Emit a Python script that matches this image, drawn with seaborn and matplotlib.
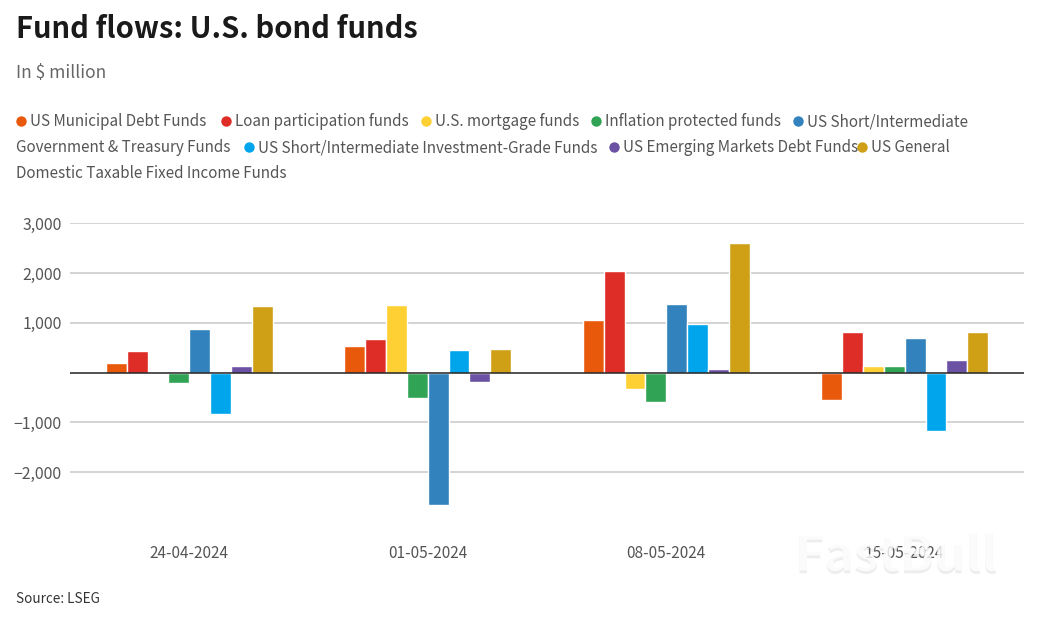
import pandas as pd
import seaborn as sns
import matplotlib.pyplot as plt
import matplotlib.patheffects as pe
from matplotlib.lines import Line2D

dates = ["24-04-2024", "01-05-2024", "08-05-2024", "15-05-2024"]
funds = ["US Municipal Debt Funds", "Loan participation funds", "U.S. mortgage funds",
         "Inflation protected funds", "US Short/Intermediate Government & Treasury Funds",
         "US Short/Intermediate Investment-Grade Funds", "US Emerging Markets Debt Funds",
         "US General Domestic Taxable Fixed Income Funds"]
colors = ["#e8590c", "#de2d26", "#ffd034", "#31a354", "#3182bd", "#00a5ec", "#6a51a3", "#cfa015"]

muni = [200, 537, 1060, -544]
loan = [436, 671, 2047, 819]
mortgage = [0, 1356, -322, 128]
inflation = [-215, -503, -584, 128]
short_gov = [880, -2658, 1389, 698]
short_ig = [-832, 456, 973, -1174]
emerging = [128, -181, 74, 255]
general = [1342, 476, 2611, 812]
series = [muni, loan, mortgage, inflation, short_gov, short_ig, emerging, general]

W, H = 1057, 624
TXT = "#555555"

rows = []
for name, vals in zip(funds, series):
    for d, v in zip(dates, vals):
        rows.append({"date": d, "fund": name, "value": v})
df = pd.DataFrame(rows)

sns.set_style("white")
# latin glyphs of this family are the closest to the original typeface
plt.rcParams["font.family"] = ["Noto Sans CJK SC", "DejaVu Sans"]

fig = plt.figure(figsize=(W / 100, H / 100), dpi=100)
ax = fig.add_axes([70 / W, 1 - 530 / H, (1024 - 70) / W, (530 - 223.3) / H])

sns.barplot(data=df, x="date", y="value", hue="fund", hue_order=funds, palette=colors,
            width=0.70, gap=0, saturation=1, legend=False, ax=ax, zorder=3)

ax.set_yticks([-2000, -1000, 1000, 2000, 3000])
ax.set_yticklabels(["\u22122,000", "\u22121,000", "1,000", "2,000", "3,000"])
ax.set_xlim(-0.5, 3.5)
ax.set_ylim(-3159, 3000)
ax.set_xlabel("")
ax.set_ylabel("")
ax.grid(axis="y", color="#c8c8c8", lw=1.1)
ax.set_axisbelow(True)
ax.axhline(0, color="#222222", lw=1.1, zorder=5)
sns.despine(ax=ax, left=True, bottom=True)
ax.tick_params(axis="y", length=0, pad=6, labelsize=11.4, labelcolor=TXT)
ax.tick_params(axis="x", length=0, pad=11, labelsize=11.1, labelcolor=TXT)

def put(x, y, s, **kw):
    return fig.text(x / W, 1 - y / H, s, va="center", **kw)

put(16, 29, "Fund flows: U.S. bond funds", fontsize=21, fontweight="bold", color="#1a1a1a")
put(16, 73, "In $ million", fontsize=12.5, color="#666666")

# legend is a wrapped paragraph in the original
legend_rows = [
    (122, [(21, 0, funds[0]), (226, 1, funds[1]), (426, 2, funds[2]), (596, 3, funds[3]),
           (798, 4, "US Short/Intermediate")]),
    (148, [(None, None, "Government & Treasury Funds"), (249, 5, funds[5]), (614, 6, funds[6]),
           (862, 7, "US General")]),
    (174, [(None, None, "Domestic Taxable Fixed Income Funds")]),
]
for y, items in legend_rows:
    for x, c, label in items:
        if x is None:
            put(16, y, label, fontsize=10.95, color=TXT)
        else:
            fig.add_artist(Line2D([x / W], [1 - (y - 1) / H], marker="o", ms=7.5, mew=0,
                                  color=colors[c], transform=fig.transFigure))
            put(x + 9, y, label, fontsize=10.95, color=TXT)

put(16, 599, "Source: LSEG", fontsize=9.7, color="#333333")

wm = put(795, 556, "FastBull", fontsize=36, fontweight="bold", color="white", alpha=0.8, zorder=10)
wm.set_path_effects([pe.withSimplePatchShadow(offset=(0, -2), shadow_rgbFace="#888888", alpha=0.15)])

fig.savefig("out.png", dpi=100, facecolor="white")
